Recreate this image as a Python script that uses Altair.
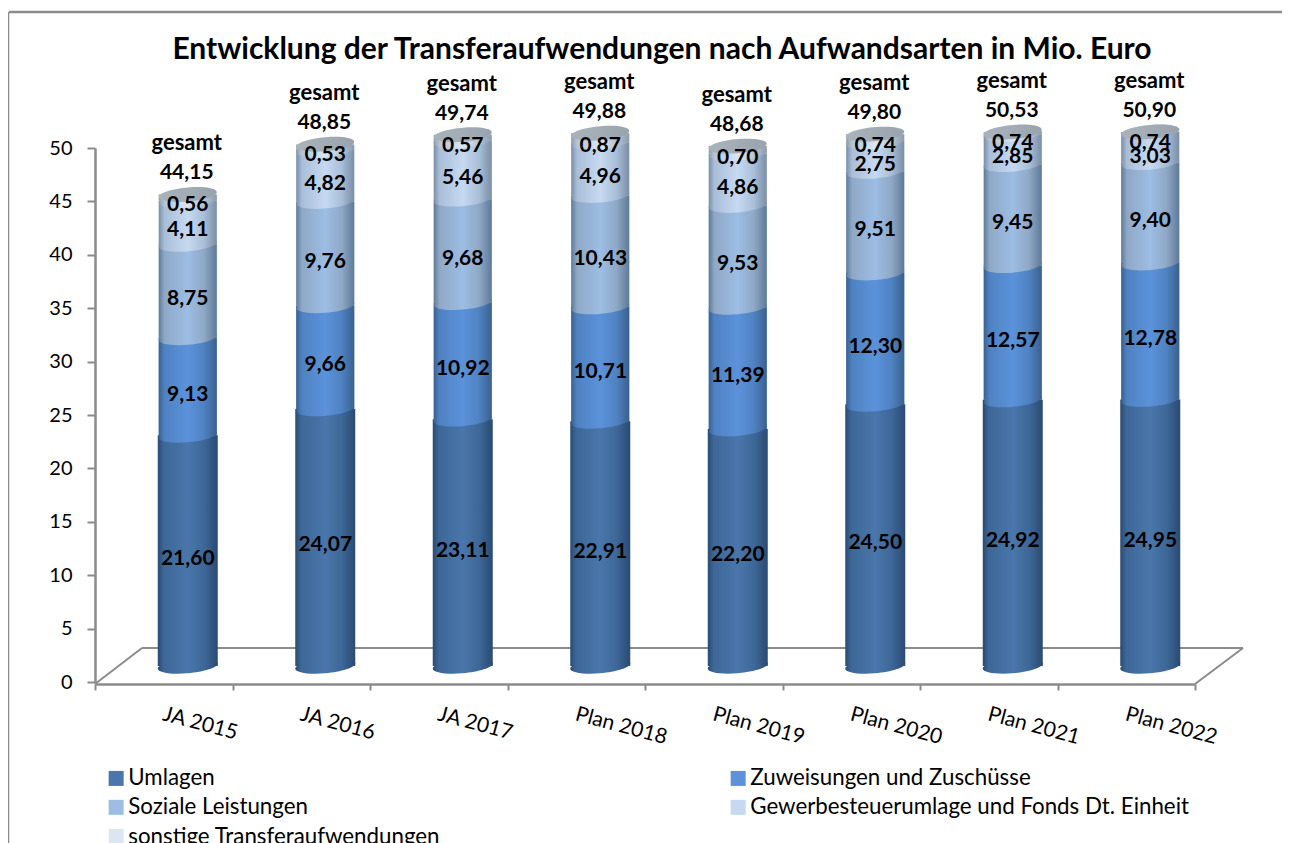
import altair as alt
import pandas as pd

years = ["JA 2015", "JA 2016", "JA 2017", "Plan 2018", "Plan 2019", "Plan 2020", "Plan 2021", "Plan 2022"]
series = ["Umlagen", "Zuweisungen und Zuschüsse", "Soziale Leistungen",
          "Gewerbesteuerumlage und Fonds Dt. Einheit", "sonstige Transferaufwendungen"]
umlagen = [21.60, 24.07, 23.11, 22.91, 22.20, 24.50, 24.92, 24.95]
zuweisungen = [9.13, 9.66, 10.92, 10.71, 11.39, 12.30, 12.57, 12.78]
soziale = [8.75, 9.76, 9.68, 10.43, 9.53, 9.51, 9.45, 9.40]
gewerbe = [4.11, 4.82, 5.46, 4.96, 4.86, 2.75, 2.85, 3.03]
sonstige = [0.56, 0.53, 0.57, 0.87, 0.70, 0.74, 0.74, 0.74]
gesamt = [44.15, 48.85, 49.74, 49.88, 48.68, 49.80, 50.53, 50.90]
base_colors = ["#4a76ab", "#5b92da", "#9dbde4", "#c6d9f1", "#dce6f2"]
edge_dark = ["#2a4a72", "#3a618f", "#5f7a99", "#7b8ea5", "#8d9cac"]
edge_mid = ["#3d6797", "#4f82c2", "#8fa8c6", "#a9bed8", "#b6c5d6"]

FONT = "Lato"
AXIS = "#8b8b8b"
AXIS_MAX = 50
ELLIPSE = "M -1 0.08 A 1 0.24 -5 1 0 1 -0.08 A 1 0.24 -5 1 0 -1 0.08 Z"
all_values = [umlagen, zuweisungen, soziale, gewerbe, sonstige]

rows = []
for i, year in enumerate(years):
    cum = 0.0
    for s, name in enumerate(series):
        v = all_values[s][i]
        lo, hi = cum, cum + v
        cum = hi
        rows.append(dict(year=year, series=name, s=s, value=v, lo=min(lo, AXIS_MAX), hi=min(hi, AXIS_MAX),
                         mid=(lo + hi) / 2, label=f"{v:.2f}".replace(".", ",")))
df = pd.DataFrame(rows)
# labels of the uppermost segments stay inside the axis range and do not overlap
top_mid = df[df.s == 4].set_index("year")["mid"].clip(upper=49.7)
df["pos"] = df["mid"]
df.loc[df.s == 4, "pos"] = df[df.s == 4]["year"].map(top_mid)
sub = df.s == 3
df.loc[sub, "pos"] = [min(m, top_mid[y] - 1.3) for m, y in zip(df[sub]["mid"], df[sub]["year"])]

totals = pd.DataFrame(dict(year=years, total=gesamt))
totals["top"] = totals["total"].clip(upper=AXIS_MAX)
totals["lab"] = totals["total"].map(lambda v: f"{v:.2f}".replace(".", ","))
totals["word"] = "gesamt"

x_axis = alt.Axis(labelAngle=15, labelAlign="left", labelBaseline="top", labelFont=FONT, labelFontSize=21,
                  labelOffset=2, labelPadding=13, labelColor="#000", labelOverlap=False, tickBand="extent",
                  tickColor=AXIS, tickWidth=2, tickSize=6, domainColor=AXIS, domainWidth=2.5, offset=2)
y_axis = alt.Axis(values=list(range(0, 51, 5)), grid=False, labelFont=FONT, labelFontSize=20, labelColor="#000",
                  labelPadding=15, tickColor=AXIS, tickWidth=2, tickSize=8, domainColor=AXIS, domainWidth=2.5)
x = alt.X("year:N", sort=years, title=None, scale=alt.Scale(paddingInner=0, paddingOuter=0), axis=x_axis)
y_scale = alt.Scale(domain=[0, AXIS_MAX], nice=False)
y0 = lambda f: alt.Y(f, title=None, scale=y_scale, axis=y_axis)

DX = 24
DY = -16
blank = alt.Data(values=[{}])


def rule(x1, y1, x2, y2, color=AXIS, w=2):
    return alt.Chart(blank).mark_rule(color=color, strokeWidth=w).encode(
        x=alt.value(x1), y=alt.value(y1), x2=alt.value(x2), y2=alt.value(y2))


def grad(s):
    return alt.Gradient(gradient="linear", x1=0, x2=1, y1=0, y2=0, stops=[
        alt.GradientStop(offset=0, color=edge_dark[s]),
        alt.GradientStop(offset=0.1, color=edge_mid[s]),
        alt.GradientStop(offset=0.5, color=base_colors[s]),
        alt.GradientStop(offset=0.78, color=edge_mid[s]),
        alt.GradientStop(offset=1, color=edge_dark[s])])


flat = alt.Chart(df).mark_bar(size=58, xOffset=DX, yOffset=DY, y2Offset=DY).encode(
    x=x, y=y0("hi:Q"), y2="lo:Q",
    color=alt.Color("series:N", sort=series, scale=alt.Scale(domain=series, range=base_colors),
                    legend=alt.Legend(title=None, orient="none", legendX=10, legendY=619, columns=2,
                                      direction="horizontal", gridAlign="all", labelFont=FONT, labelFontSize=22.3,
                                      labelColor="#000", labelOffset=1, symbolType="square", symbolSize=225,
                                      symbolStrokeWidth=0, rowPadding=6.2, columnPadding=160, labelLimit=600)))

layers = [
    rule(-86, -136, 1187, -136, w=2.5),
    rule(-87, -136, -87, 700, w=2.5),
    rule(0, 536, 47, 500),
    rule(47, 500, 1148, 500),
    rule(1100, 536, 1148, 500),
    flat,
]

for s in range(5):
    d = df[df.s == s]
    w = 60 if s == 0 else 58
    layers.append(alt.Chart(d).mark_bar(size=w, xOffset=DX, yOffset=DY, y2Offset=DY, color=grad(s)).encode(
        x=x, y=y0("hi:Q"), y2="lo:Q"))
    layers.append(alt.Chart(d).mark_point(shape=ELLIPSE, filled=True, opacity=1, size=w ** 2, xOffset=DX, yOffset=DY,
                                          color=grad(s)).encode(x=x, y=y0("lo:Q")))

cap = alt.Gradient(gradient="linear", x1=0, x2=1, y1=0, y2=0, stops=[
    alt.GradientStop(offset=0, color="#aab3bb"), alt.GradientStop(offset=0.5, color="#a2acb5"),
    alt.GradientStop(offset=1, color="#98a3ad")])
layers.append(alt.Chart(totals).mark_point(shape=ELLIPSE, filled=True, opacity=1, size=58 ** 2, xOffset=DX, yOffset=DY,
                                           color=cap).encode(x=x, y=y0("top:Q")))

layers.append(alt.Chart(df).mark_text(font=FONT, fontWeight="bold", fontSize=21, color="#000", xOffset=DX, yOffset=-8).encode(
    x=x, y=y0("pos:Q"), text="label:N"))
layers.append(alt.Chart(totals).mark_text(font=FONT, fontWeight="bold", fontSize=21, color="#000", xOffset=DX - 1, yOffset=-37).encode(
    x=x, y=y0("top:Q"), text="lab:N"))
layers.append(alt.Chart(totals).mark_text(font=FONT, fontWeight="bold", fontSize=22, color="#000", xOffset=DX - 1, yOffset=-67).encode(
    x=x, y=y0("top:Q"), text="word:N"))

chart = alt.layer(*layers).properties(
    width=1100, height=534,
    autosize=alt.AutoSizeParams(type="none"),
    padding={"left": 87, "top": 140, "right": 95, "bottom": 161},
    title=alt.TitleParams("Entwicklung der Transferaufwendungen nach Aufwandsarten in Mio. Euro",
                          font=FONT, fontSize=30, fontWeight="bold", color="#000", anchor="middle",
                          frame="group", dx=17, offset=-54),
).configure_view(stroke=None)

chart.save("out.html", embed_options={"renderer": "svg", "actions": False})
